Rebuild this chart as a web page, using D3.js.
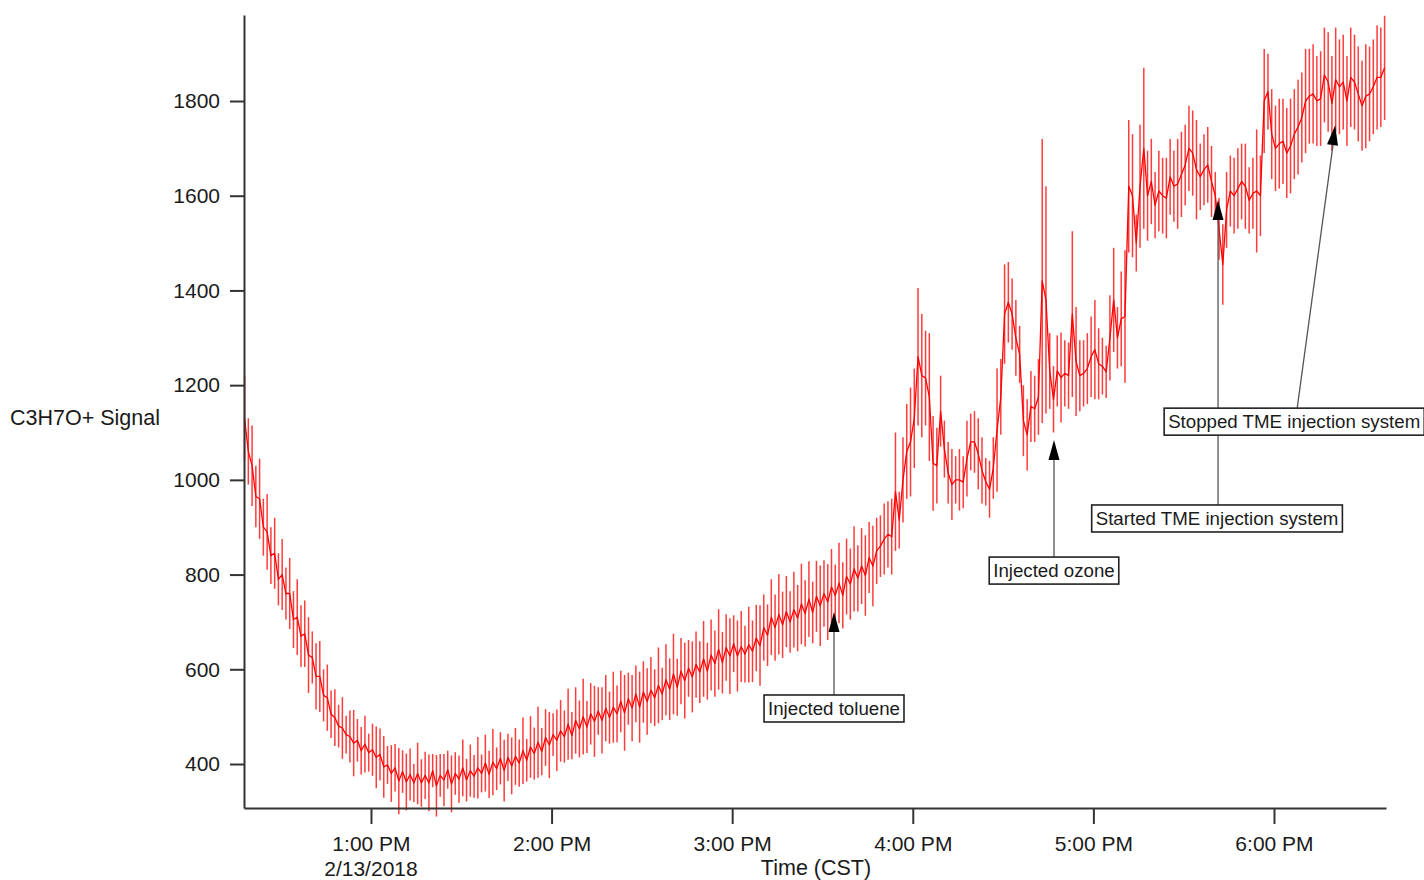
<!DOCTYPE html>
<html>
<head>
<meta charset="utf-8">
<script src="https://cdn.jsdelivr.net/npm/d3@7"></script>
<style>
  html, body { margin: 0; padding: 0; background: #ffffff; }
  svg { display: block; font-family: "Liberation Sans", Arial, sans-serif; }
</style>
</head>
<body>
<svg id="chart" width="1424" height="880"></svg>
<script>
// ---- data ---------------------------------------------------------------
// Regularly sampled signal: first sample time and sample interval (seconds)
const sampleStart = new Date(2018, 1, 13, 12, 18, 0);
const sampleStepSeconds = 75;

// Mean C3H7O+ signal per sample (12 samples = 15 minutes per row)
const signal = [
  1130, 1060, 1030, 965, 960, 900, 890, 840, 845, 790, 800, 760,
  760, 705, 710, 670, 675, 630, 625, 585, 585, 545, 540, 505,
  498, 480, 476, 462, 458, 444, 450, 428, 442, 424, 430, 414,
  420, 394, 398, 380, 392, 364, 384, 362, 378, 360, 380, 360,
  376, 360, 386, 354, 376, 366, 388, 358, 380, 368, 392, 366,
  386, 374, 392, 380, 402, 378, 404, 390, 412, 386, 414, 396,
  416, 402, 428, 408, 436, 422, 446, 426, 456, 440, 462, 450,
  470, 458, 484, 460, 492, 474, 500, 478, 506, 490, 512, 492,
  518, 498, 520, 506, 532, 508, 538, 518, 548, 520, 552, 532,
  556, 540, 566, 548, 578, 558, 590, 562, 596, 576, 602, 584,
  610, 594, 622, 596, 630, 612, 642, 614, 646, 628, 654, 628,
  648, 632, 652, 638, 666, 650, 688, 672, 710, 688, 716, 694,
  722, 700, 726, 708, 738, 718, 748, 720, 754, 734, 760, 742,
  774, 756, 782, 756, 796, 780, 812, 792, 818, 798, 836, 818,
  850, 860, 875, 885, 880, 975, 915, 1000, 1060, 1080, 1130, 1260,
  1220, 1215, 1175, 1035, 1030, 1145, 1065, 1015, 990, 1000, 1000, 995,
  1045, 1080, 1080, 1055, 1020, 996, 980, 1025, 1105, 1175, 1350, 1375,
  1350, 1300, 1265, 1125, 1095, 1155, 1150, 1175, 1420, 1380, 1230, 1170,
  1230, 1216, 1225, 1220, 1350, 1250, 1220, 1225, 1235, 1260, 1275, 1245,
  1240, 1228, 1300, 1380, 1300, 1340, 1345, 1620, 1600, 1500, 1620, 1700,
  1600, 1630, 1580, 1610, 1600, 1595, 1640, 1620, 1625, 1645, 1665, 1700,
  1690, 1655, 1640, 1655, 1665, 1630, 1600, 1530, 1455, 1570, 1610, 1600,
  1615, 1630, 1620, 1590, 1605, 1610, 1600, 1800, 1820, 1730, 1700, 1710,
  1715, 1690, 1705, 1730, 1745, 1765, 1800, 1810, 1815, 1800, 1805, 1855,
  1840, 1795, 1845, 1830, 1840, 1800, 1850, 1840, 1815, 1790, 1810, 1815,
  1830, 1850, 1850, 1870
];

// Half-width of the spread around each sample
const signalError = [
  90, 70, 85, 65, 85, 60, 80, 60, 75, 55, 75, 55,
  75, 60, 80, 65, 70, 80, 55, 70, 75, 55, 70, 50,
  60, 45, 65, 40, 55, 70, 45, 50, 60, 40, 55, 65,
  55, 65, 40, 60, 50, 70, 45, 60, 55, 40, 65, 50,
  50, 60, 35, 65, 45, 55, 40, 60, 45, 50, 60, 45,
  55, 45, 65, 40, 60, 50, 70, 45, 55, 65, 50, 60,
  60, 50, 70, 45, 65, 55, 75, 50, 60, 70, 45, 65,
  65, 55, 75, 50, 70, 60, 80, 55, 65, 75, 50, 70,
  70, 55, 75, 60, 65, 80, 55, 70, 60, 75, 65, 70,
  70, 60, 80, 55, 75, 65, 85, 60, 70, 80, 60, 75,
  70, 65, 80, 60, 75, 70, 85, 65, 70, 80, 60, 75,
  75, 60, 80, 65, 70, 85, 70, 65, 80, 70, 85, 70,
  75, 65, 80, 70, 85, 70, 80, 65, 75, 85, 70, 80,
  80, 65, 85, 70, 80, 75, 90, 70, 80, 85, 75, 85,
  70, 65, 75, 70, 80, 125, 60, 90, 100, 115, 105, 145,
  130, 100, 135, 100, 80, 75, 60, 65, 75, 50, 65, 55,
  80, 60, 65, 75, 70, 50, 60, 65, 130, 80, 105, 85,
  75, 80, 60, 75, 75, 75, 70, 80, 300, 240, 80, 70,
  75, 95, 70, 70, 175, 115, 75, 70, 75, 85, 105, 75,
  60, 55, 90, 110, 65, 100, 140, 140, 130, 60, 130, 170,
  95, 90, 70, 85, 80, 85, 80, 75, 95, 90, 85, 90,
  90, 105, 70, 75, 80, 75, 50, 65, 85, 80, 75, 80,
  85, 80, 90, 70, 75, 130, 85, 110, 80, 95, 90, 95,
  90, 95, 100, 95, 100, 95, 110, 100, 105, 95, 100, 100,
  105, 100, 110, 100, 100, 95, 105, 100, 100, 95, 110, 100,
  100, 110, 105, 110
];

// Axis ticks
const yTickValues = [400, 600, 800, 1000, 1200, 1400, 1600, 1800];
const xTickHours = [13, 14, 15, 16, 17, 18];
const dateLabel = "2/13/2018";

// Event annotations: text, time of the event, signal level at the arrow tip
const annotationLabels = ["Injected toluene", "Injected ozone", "Started TME injection system", "Stopped TME injection system"];
const annotationTimes = [
  new Date(2018, 1, 13, 15, 33, 50),
  new Date(2018, 1, 13, 16, 46, 55),
  new Date(2018, 1, 13, 17, 41, 25),
  new Date(2018, 1, 13, 18, 20, 20)
];
const annotationValues = [721, 1084, 1591, 1749];

// ---- layout -------------------------------------------------------------
const plot = { left: 244, right: 1386, top: 15, bottom: 808 };

const svg = d3.select("#chart");

const x = d3.scaleTime()
  .domain([new Date(2018, 1, 13, 12, 17, 49), new Date(2018, 1, 13, 18, 37, 13)])
  .range([plot.left, plot.right]);

const y = d3.scaleLinear()
  .domain([307.1, 1981.6])
  .range([plot.bottom, plot.top]);

const sampleTime = i => new Date(sampleStart.getTime() + i * sampleStepSeconds * 1000);

// ---- signal -------------------------------------------------------------
const dataG = svg.append("g");

dataG.selectAll("line.spread")
  .data(signal)
  .join("line")
  .attr("class", "spread")
  .attr("x1", (d, i) => x(sampleTime(i)))
  .attr("x2", (d, i) => x(sampleTime(i)))
  .attr("y1", (d, i) => y(d - signalError[i]))
  .attr("y2", (d, i) => y(d + signalError[i]))
  .attr("stroke", "#ff1a1a")
  .attr("stroke-opacity", 0.85)
  .attr("stroke-width", 1.5);

dataG.append("path")
  .datum(signal)
  .attr("fill", "none")
  .attr("stroke", "#ff0000")
  .attr("stroke-width", 1.3)
  .attr("stroke-linejoin", "round")
  .attr("d", d3.line().x((d, i) => x(sampleTime(i))).y(d => y(d)));

// ---- axes ---------------------------------------------------------------
const axisColor = "#333333";
const textColor = "#1a1a1a";

const yAxis = svg.append("g")
  .attr("transform", `translate(${plot.left},0)`)
  .call(d3.axisLeft(y).tickValues(yTickValues).tickSize(14).tickSizeOuter(0).tickPadding(10).tickFormat(d3.format("d")));

const xAxis = svg.append("g")
  .attr("transform", `translate(0,${plot.bottom})`)
  .call(d3.axisBottom(x)
    .tickValues(xTickHours.map(h => new Date(2018, 1, 13, h, 0, 0)))
    .tickSize(16).tickSizeOuter(0).tickPadding(12)
    .tickFormat(d3.timeFormat("%-I:%M %p")));

[yAxis, xAxis].forEach(a => {
  a.select(".domain").attr("stroke", axisColor).attr("stroke-width", 2);
  a.selectAll(".tick line").attr("stroke", axisColor).attr("stroke-width", 2);
  a.selectAll(".tick text")
    .attr("fill", textColor)
    .style("font-size", "21px")
    .style("font-family", "\"Liberation Sans\", Arial, sans-serif");
});

// date under the first time tick
svg.append("text")
  .attr("x", x(new Date(2018, 1, 13, xTickHours[0], 0, 0)))
  .attr("y", 876)
  .attr("text-anchor", "middle")
  .attr("fill", textColor)
  .style("font-size", "21px")
  .text(dateLabel);

// axis titles
svg.append("text")
  .attr("x", 816)
  .attr("y", 875)
  .attr("text-anchor", "middle")
  .attr("fill", textColor)
  .style("font-size", "21.5px")
  .text("Time (CST)");

svg.append("text")
  .attr("x", 10)
  .attr("y", 425)
  .attr("text-anchor", "start")
  .attr("fill", textColor)
  .style("font-size", "21.5px")
  .text("C3H7O+ Signal");

// ---- annotations --------------------------------------------------------
// box placement relative to the arrow tip (pixels)
const annotationLayout = [
  { boxDx: 0,   boxDy: 83,  lineDx: 0 },
  { boxDx: 0,   boxDy: 117, lineDx: 0 },
  { boxDx: -1,  boxDy: 305, lineDx: 1 },
  { boxDx: -41, boxDy: 283, lineDx: 3 }
];
const boxH = 27, boxPad = 4, arrowLen = 20, arrowHalf = 5.5;

const annG = svg.append("g").style("font-size", "18.7px");

const ann = annotationLabels.map((label, i) => {
  const tx = x(annotationTimes[i]);
  const ty = y(annotationValues[i]);
  const L = annotationLayout[i];
  return { label, tx, ty, cx: tx + L.boxDx, top: ty + L.boxDy, lx: tx + L.boxDx + L.lineDx };
});

// leader lines first, so later boxes sit on top of them
annG.selectAll("line.leader")
  .data(ann)
  .join("line")
  .attr("class", "leader")
  .attr("x1", d => d.lx)
  .attr("y1", d => d.top)
  .attr("x2", d => d.tx)
  .attr("y2", d => d.ty + 4)
  .attr("stroke", "#555555")
  .attr("stroke-width", 1.3);

// arrowheads pointing along each leader line
annG.selectAll("path.head")
  .data(ann)
  .join("path")
  .attr("class", "head")
  .attr("fill", "#000000")
  .attr("d", d => {
    const dx = d.tx - d.lx, dy = d.ty - d.top;
    const len = Math.hypot(dx, dy);
    const ux = dx / len, uy = dy / len;
    const bx = d.tx - ux * arrowLen, by = d.ty - uy * arrowLen;
    const px = -uy * arrowHalf, py = ux * arrowHalf;
    return `M${d.tx},${d.ty}L${bx + px},${by + py}L${bx - px},${by - py}Z`;
  });

const boxes = annG.selectAll("g.box")
  .data(ann)
  .join("g")
  .attr("class", "box");

boxes.append("text")
  .attr("x", d => d.cx)
  .attr("y", d => d.top + boxH / 2 + 6.5)
  .attr("text-anchor", "middle")
  .attr("fill", textColor)
  .text(d => d.label)
  .each(function (d) { d.tw = this.getComputedTextLength(); });

boxes.insert("rect", "text")
  .attr("x", d => d.cx - d.tw / 2 - boxPad)
  .attr("y", d => d.top)
  .attr("width", d => d.tw + boxPad * 2)
  .attr("height", boxH)
  .attr("fill", "#ffffff")
  .attr("stroke", "#222222")
  .attr("stroke-width", 1.6);
</script>
</body>
</html>
